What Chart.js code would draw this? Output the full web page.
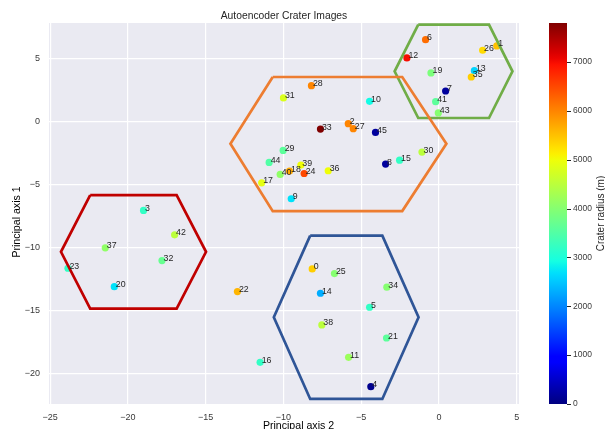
<!DOCTYPE html>
<html>
<head>
<meta charset="utf-8">
<script src="https://cdn.jsdelivr.net/npm/chart.js@4.4.0/dist/chart.umd.min.js"></script>
<style>
  html, body { margin: 0; padding: 0; background: #fff; }
  #wrap { width: 605px; height: 429px; }
</style>
</head>
<body>
<div id="wrap"><canvas id="chart" width="605" height="429"></canvas></div>
<script>
// Crater ids 0..45
const craterIds = [...Array(46).keys()];
const axis2 = [-8.15, 3.72, -5.83, -19.0, -4.38, -4.46, -0.86, 0.43, -3.43, -9.50,
               -4.46, -5.81, -2.06, 2.28, -7.62, -2.53, -11.50, -11.40, -9.61, -0.51,
               -20.88, -3.37, -12.96, -23.86, -8.67, -6.72, 2.81, -5.51, -8.20, -10.02,
               -1.09, -10.0, -17.81, -7.62, -3.35, 2.08, -7.12, -21.46, -7.53, -8.88,
               -10.21, -0.21, -17.0, -0.04, -10.92, -4.08];
const axis1 = [-11.69, 5.98, -0.18, -7.06, -21.03, -14.73, 6.48, 2.41, -3.38, -6.13,
               1.59, -18.70, 5.03, 4.02, -13.62, -3.07, -19.10, -4.87, -3.94, 3.84,
               -13.10, -17.17, -13.49, -11.64, -4.13, -12.06, 5.64, -0.58, 2.83, -2.30,
               -2.43, 1.86, -11.03, -0.61, -13.14, 3.52, -3.91, -10.02, -16.13, -3.46,
               -4.20, 1.56, -8.99, 0.67, -3.25, -0.87];
const craterRadius = [5400, 5500, 6000, 3200, 100, 3200, 6200, 200, 200, 2700,
                      2900, 4200, 7000, 2600, 2300, 3200, 3200, 4900, 5700, 3900,
                      2700, 3600, 5600, 3200, 6500, 4000, 5300, 6000, 6000, 3600,
                      4500, 4800, 3700, 7800, 4000, 5400, 5000, 4100, 4500, 5000,
                      4100, 3600, 4500, 4000, 3500, 200];

// cluster hexagons (vertices in data units)
const hexOrangeX = [-10.69, -2.36, 0.48, -2.36, -10.69, -13.41];
const hexOrangeY = [3.52, 3.52, -1.77, -7.11, -7.11, -1.77];
const hexGreenX = [-1.33, 3.22, 4.73, 3.22, -1.33, -2.85];
const hexGreenY = [7.67, 7.67, 3.97, 0.27, 0.27, 3.97];
const hexRedX = [-22.43, -16.87, -14.98, -16.87, -22.43, -24.31];
const hexRedY = [-5.84, -5.84, -10.34, -14.84, -14.84, -10.34];
const hexBlueX = [-8.28, -3.64, -1.31, -3.64, -8.28, -10.62];
const hexBlueY = [-9.05, -9.05, -15.52, -22.0, -22.0, -15.52];

const xTicks = [-25, -20, -15, -10, -5, 0, 5];
const yTicks = [-20, -15, -10, -5, 0, 5];
const cbTicks = [0, 1000, 2000, 3000, 4000, 5000, 6000, 7000];
const cbMax = 7800;

const FONT = "'Liberation Sans', Arial, sans-serif";
const TXT = '#262626';

function jet(t) {
    t = Math.max(0, Math.min(1, t));
    const interp = pts => {
        for (let i = 1; i < pts.length; i++) {
            if (t <= pts[i][0]) {
                const [x0, y0] = pts[i - 1], [x1, y1] = pts[i];
                return y0 + (y1 - y0) * (t - x0) / (x1 - x0);
            }
        }
        return pts[pts.length - 1][1];
    };
    const r = interp([[0, 0], [0.35, 0], [0.66, 1], [0.89, 1], [1, 0.5]]);
    const g = interp([[0, 0], [0.125, 0], [0.375, 1], [0.64, 1], [0.91, 0], [1, 0]]);
    const b = interp([[0, 0.5], [0.11, 1], [0.34, 1], [0.65, 0], [1, 0]]);
    return `rgb(${Math.round(r * 255)},${Math.round(g * 255)},${Math.round(b * 255)})`;
}

function hexDataset(xs, ys, color) {
    const pts = xs.map((x, i) => ({ x: x, y: ys[i] }));
    pts.push(pts[0]);
    return {
        data: pts, showLine: true, borderColor: color, borderWidth: 2.7,
        borderJoinStyle: 'miter', pointRadius: 0, pointHoverRadius: 0, fill: false
    };
}

const minus = v => String(v).replace('-', '\u2212');

// chart area is placed by hand, so drop the label overflow padding
function fixBox(s, w, h) {
    if (w) s.width = w;
    if (h) s.height = h;
    s.paddingTop = s.paddingBottom = s.paddingLeft = s.paddingRight = 0;
}

// background + titles + colorbar + point labels
const decor = {
    id: 'decor',
    beforeDraw(chart) {
        const { ctx, chartArea: a } = chart;
        ctx.save();
        ctx.fillStyle = '#fff';
        ctx.fillRect(0, 0, chart.width, chart.height);
        ctx.fillStyle = '#EAEAF2';
        ctx.fillRect(a.left, a.top, a.right - a.left, a.bottom - a.top);
        ctx.restore();
    },
    afterDatasetsDraw(chart) {
        const { ctx } = chart;
        const meta = chart.getDatasetMeta(4);
        ctx.save();
        ctx.font = `8.8px ${FONT}`;
        ctx.fillStyle = TXT;
        ctx.textBaseline = 'alphabetic';
        ctx.textAlign = 'left';
        meta.data.forEach((el, i) => {
            ctx.fillText(String(craterIds[i]), el.x + 1.5, el.y + 0.5);
        });
        ctx.restore();
    },
    afterDraw(chart) {
        const { ctx, chartArea: a } = chart;
        const cb = chart.scales.cb;
        ctx.save();
        // colorbar
        const y0 = cb.getPixelForValue(0), y1 = cb.getPixelForValue(cbMax);
        const grad = ctx.createLinearGradient(0, y0, 0, y1);
        for (let i = 0; i <= 64; i++) grad.addColorStop(i / 64, jet(i / 64));
        ctx.fillStyle = grad;
        ctx.fillRect(549, y1, 18, y0 - y1);
        ctx.strokeStyle = TXT;
        ctx.lineWidth = 1;
        cbTicks.forEach(v => {
            const y = Math.round(cb.getPixelForValue(v)) + 0.5;
            ctx.beginPath();
            ctx.moveTo(567, y);
            ctx.lineTo(571, y);
            ctx.stroke();
        });
        // titles
        ctx.fillStyle = TXT;
        ctx.textAlign = 'center';
        ctx.textBaseline = 'alphabetic';
        ctx.font = `10.3px ${FONT}`;
        ctx.fillText('Autoencoder Crater Images', (a.left + a.right) / 2, 18.5);
        ctx.fillStyle = '#000';
        ctx.font = `10.6px ${FONT}`;
        ctx.fillText('Principal axis 2', 298.5, 428.5);
        ctx.save();
        ctx.translate(19.5, 222);
        ctx.rotate(-Math.PI / 2);
        ctx.fillText('Principal axis 1', 0, 0);
        ctx.restore();
        ctx.fillStyle = TXT;
        ctx.font = `10px ${FONT}`;
        ctx.save();
        ctx.translate(604, (a.top + a.bottom) / 2);
        ctx.rotate(-Math.PI / 2);
        ctx.fillText('Crater radius (m)', 0, 0);
        ctx.restore();
        ctx.restore();
    }
};

const tickFont = { family: FONT, size: 9 };

new Chart(document.getElementById('chart'), {
    type: 'scatter',
    data: {
        datasets: [
            hexDataset(hexOrangeX, hexOrangeY, '#ED7D31'),
            hexDataset(hexGreenX, hexGreenY, '#70AD47'),
            hexDataset(hexRedX, hexRedY, '#C00000'),
            hexDataset(hexBlueX, hexBlueY, '#2F5597'),
            {
                data: axis2.map((x, i) => ({ x: x, y: axis1[i] })),
                pointRadius: 3.6,
                pointHoverRadius: 3.6,
                pointBorderWidth: 0,
                pointBackgroundColor: c => jet(craterRadius[c.dataIndex] / cbMax),
                showLine: false
            }
        ]
    },
    options: {
        responsive: false,
        devicePixelRatio: 1,
        animation: false,
        layout: { padding: { top: 23, left: 0, right: 0, bottom: 0 } },
        plugins: { legend: { display: false }, tooltip: { enabled: false } },
        scales: {
            x: {
                type: 'linear', min: -25.08, max: 5.15,
                afterBuildTicks: s => { s.ticks = xTicks.map(v => ({ value: v })); },
                afterFit: s => fixBox(s, 0, 25),
                grid: { color: '#fff', lineWidth: 1.2, drawTicks: false },
                border: { display: false },
                ticks: { padding: 8, color: '#3a3a3a', font: tickFont, maxRotation: 0, callback: minus }
            },
            y: {
                type: 'linear', min: -22.4, max: 7.8,
                afterBuildTicks: s => { s.ticks = yTicks.map(v => ({ value: v })); },
                afterFit: s => fixBox(s, 49, 0),
                grid: { color: '#fff', lineWidth: 1.2, drawTicks: false },
                border: { display: false },
                ticks: { padding: 9, color: '#3a3a3a', font: tickFont, callback: minus }
            },
            cb: {
                type: 'linear', position: 'right', min: 0, max: cbMax,
                afterBuildTicks: s => { s.ticks = cbTicks.map(v => ({ value: v })); },
                afterFit: s => fixBox(s, 86, 0),
                grid: { display: false, drawTicks: false },
                border: { display: false },
                ticks: { padding: 54, color: '#3a3a3a', font: { family: FONT, size: 8.5 }, callback: v => String(v) }
            }
        }
    },
    plugins: [decor]
});
</script>
</body>
</html>
